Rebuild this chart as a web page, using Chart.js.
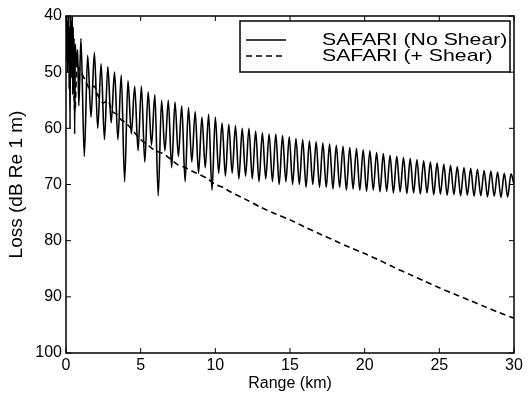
<!DOCTYPE html>
<html>
<head>
<meta charset="utf-8">
<script src="https://cdn.jsdelivr.net/npm/chart.js@4.4.1/dist/chart.umd.min.js"></script>
<style>
    html, body { margin: 0; padding: 0; background: #fff; }
    #wrap { width: 530px; height: 394px; }
</style>
</head>
<body>
<div id="wrap"><canvas id="chart" width="530" height="394"></canvas></div>
<script>
const X_TICKS = [0, 5, 10, 15, 20, 25, 30];
const Y_TICKS = [40, 50, 60, 70, 80, 90, 100];

const SERIES_LABELS = ['SAFARI (No Shear)', 'SAFARI (+ Shear)'];

// SAFARI, no shear (range km / loss dB)
const solidRange = [
    0, 0.03, 0.06, 0.09, 0.12, 0.15, 0.18, 0.21, 0.24, 0.27, 0.3, 0.33, 0.36, 0.39,
    0.42, 0.45, 0.48, 0.51, 0.54, 0.58, 0.62, 0.7, 0.78, 0.86,
    1.0, 1.225, 1.45, 1.675, 1.9, 2.125, 2.35, 2.575, 2.8, 3.025, 3.25, 3.475,
    3.7, 3.925, 4.15, 4.375, 4.6, 4.825, 5.05, 5.275, 5.5, 5.725, 5.95, 6.175,
    6.4, 6.625, 6.85, 7.075, 7.3, 7.525, 7.75, 7.975, 8.2, 8.425, 8.65, 8.875,
    9.1, 9.325, 9.55, 9.775, 10.0, 10.225, 10.45, 10.675, 10.9, 11.125, 11.35, 11.575,
    11.8, 12.025, 12.25, 12.475, 12.7, 12.925, 13.15, 13.375, 13.6, 13.825, 14.05, 14.275,
    14.5, 14.725, 14.95, 15.175, 15.4, 15.625, 15.85, 16.075, 16.3, 16.525, 16.75, 16.975,
    17.2, 17.425, 17.65, 17.875, 18.1, 18.325, 18.55, 18.775, 19.0, 19.225, 19.45, 19.675,
    19.9, 20.125, 20.35, 20.575, 20.8, 21.025, 21.25, 21.475, 21.7, 21.925, 22.15, 22.375,
    22.6, 22.825, 23.05, 23.275, 23.5, 23.725, 23.95, 24.175, 24.4, 24.625, 24.85, 25.075,
    25.3, 25.525, 25.75, 25.975, 26.2, 26.425, 26.65, 26.875, 27.1, 27.325, 27.55, 27.775,
    28.0, 28.225, 28.45, 28.675, 28.9, 29.125, 29.35, 29.575, 29.8, 30.0
];
const solidLoss = [
    40, 48, 40, 50, 41, 47, 40, 53, 42, 60, 40, 49, 41, 51,
    40, 54, 42, 50, 44, 61, 45, 49, 46, 56,
    44, 65, 47, 58, 46.5, 60, 48.5, 62, 49, 59, 50, 62,
    50.5, 69.5, 51.5, 61, 52.5, 64, 52.5, 66, 53.5, 63, 54, 72,
    55, 64, 55, 67, 55.3, 65, 56, 69.5, 56.3, 66, 57, 68,
    58, 67, 57.5, 71, 58, 68, 59, 68.5, 59.3, 68, 59.5, 69,
    60, 68.5, 60, 69, 60.5, 69.5, 60.8, 69, 61, 69.5, 61, 70,
    61.3, 69.5, 61.5, 70, 61.8, 70, 62, 70.5, 62.2, 70, 62.4, 70.5,
    62.6, 70.5, 62.8, 70.8, 63, 70.5, 63.2, 71, 63.4, 70.8, 63.6, 71,
    63.8, 71.2, 64, 71, 64.3, 71.3, 64.5, 71.2, 64.8, 71.5, 65, 71.3,
    65.2, 71.6, 65.4, 71.5, 65.6, 71.7, 65.8, 71.5, 66, 71.8, 66.2, 71.7,
    66.4, 71.9, 66.6, 71.8, 66.8, 72, 67, 71.9, 67.1, 72.1, 67.3, 72,
    67.5, 72.2, 67.6, 72.1, 67.8, 72.3, 68, 72.2, 68.1, 70
];

// SAFARI, with shear
const shearRange = [
    0, 0.15, 0.3, 0.45, 0.6, 0.75, 1.0, 1.3, 1.6, 1.9, 2.2, 2.5, 2.8, 3.1, 3.4, 3.7,
    4.0, 4.5, 5.0, 5.5, 6.0, 6.5, 7.0, 7.5, 8.0, 8.5, 9.0, 9.5, 10, 10.5, 11,
    12, 13, 14, 15, 16, 17, 18, 19, 20, 21, 22, 23, 24, 25, 26, 27, 28, 29, 30
];
const shearLoss = [
    40, 44, 46, 48, 57, 49, 50, 51.5, 53, 52.5, 54.5, 55.5, 55, 57, 57.5, 58.5,
    59, 60.5, 62, 63, 64, 64.5, 65.5, 66.5, 67, 67.7, 68.3, 69, 70, 70.5, 71.3,
    72.6, 74, 75.2, 76.3, 77.6, 78.8, 80, 81.2, 82.3, 83.5, 84.8, 86, 87.2, 88.4, 89.5, 90.6, 91.7, 92.8, 93.8
];

const FONT = 'Liberation Sans, Arial, Helvetica, sans-serif';

function toPoints(xs, ys) {
    return xs.map((x, i) => ({ x: x, y: ys[i] }));
}

// frame, inner ticks and the boxed legend
const framePlugin = {
    id: 'frame',
    afterDatasetsDraw(chart) {
        const { ctx, chartArea: a, scales } = chart;
        ctx.save();
        ctx.strokeStyle = '#000';
        ctx.lineWidth = 1.5;
        ctx.strokeRect(a.left, a.top, a.right - a.left, a.bottom - a.top);

        ctx.lineWidth = 1;
        ctx.beginPath();
        X_TICKS.forEach(v => {
            const px = scales.x.getPixelForValue(v);
            ctx.moveTo(px, a.bottom); ctx.lineTo(px, a.bottom - 5);
            ctx.moveTo(px, a.top); ctx.lineTo(px, a.top + 5);
        });
        Y_TICKS.forEach(v => {
            const py = scales.y.getPixelForValue(v);
            ctx.moveTo(a.left, py); ctx.lineTo(a.left + 5, py);
            ctx.moveTo(a.right, py); ctx.lineTo(a.right - 5, py);
        });
        ctx.stroke();

        // legend box
        const bx = 240, by = 21, bw = 270, bh = 51;
        ctx.fillStyle = '#fff';
        ctx.fillRect(bx, by, bw, bh);
        ctx.lineWidth = 1.5;
        ctx.strokeRect(bx, by, bw, bh);

        const rows = [40, 56];
        chart.data.datasets.forEach((ds, i) => {
            const y = rows[i];
            ctx.beginPath();
            ctx.lineWidth = 1.5;
            ctx.setLineDash(ds.borderDash || []);
            ctx.moveTo(246, y);
            ctx.lineTo(286, y);
            ctx.stroke();
            ctx.setLineDash([]);
            // the scanned legend text is wide: stretch it horizontally
            ctx.save();
            ctx.translate(322, y);
            ctx.scale(1.25, 1);
            ctx.fillStyle = '#000';
            ctx.font = '17px ' + FONT;
            ctx.textAlign = 'left';
            ctx.textBaseline = 'middle';
            ctx.fillText(ds.label, 0, 0);
            ctx.restore();
        });
        ctx.restore();
    }
};

new Chart(document.getElementById('chart'), {
    type: 'line',
    data: {
        datasets: [
            {
                label: SERIES_LABELS[0],
                data: toPoints(solidRange, solidLoss),
                borderColor: '#000',
                borderWidth: 1.6,
                pointRadius: 0,
                cubicInterpolationMode: 'monotone'
            },
            {
                label: SERIES_LABELS[1],
                data: toPoints(shearRange, shearLoss),
                borderColor: '#000',
                borderWidth: 1.6,
                borderDash: [6, 4],
                pointRadius: 0,
                tension: 0.3
            }
        ]
    },
    options: {
        responsive: false,
        animation: false,
        layout: { padding: { top: 16, right: 16, left: 0, bottom: 0 } },
        plugins: { legend: { display: false }, tooltip: { enabled: false } },
        scales: {
            x: {
                type: 'linear',
                min: 0, max: 30,
                afterFit: s => { s.height = 41; },
                afterBuildTicks: s => { s.ticks = X_TICKS.map(v => ({ value: v })); },
                grid: { display: false, drawTicks: false },
                border: { display: false },
                ticks: { color: '#000', padding: 3, font: { family: FONT, size: 16 } },
                title: {
                    display: true, text: 'Range (km)', color: '#000',
                    padding: { top: 0, bottom: 1 },
                    font: { family: FONT, size: 16 }
                }
            },
            y: {
                reverse: true,
                min: 40, max: 100,
                afterFit: s => { s.width = 66; },
                afterBuildTicks: s => { s.ticks = Y_TICKS.map(v => ({ value: v })); },
                grid: { display: false, drawTicks: false },
                border: { display: false },
                ticks: { color: '#000', padding: 4, font: { family: FONT, size: 16 } },
                title: {
                    display: true, text: 'Loss (dB Re 1 m)', color: '#000',
                    padding: { top: 5, bottom: 0 },
                    font: { family: FONT, size: 19 }
                }
            }
        }
    },
    plugins: [framePlugin]
});
</script>
</body>
</html>
